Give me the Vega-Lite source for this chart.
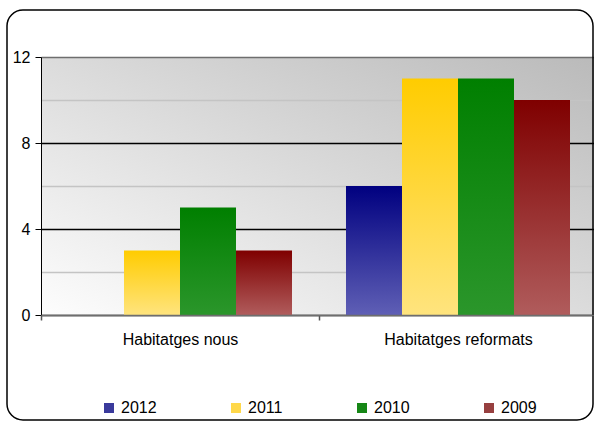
{
  "$schema": "https://vega.github.io/schema/vega-lite/v6.json",
  "width": 556,
  "height": 258,
  "autosize": {"type": "none"},
  "padding": {"left": 41, "top": 57, "right": 0, "bottom": 108},
  "background": "white",
  "config": {
    "font": "Liberation Sans",
    "view": {"stroke": null}
  },
  "view": {
    "stroke": null,
    "fill": {"gradient": "linear", "x1": 0, "y1": 1, "x2": 1, "y2": 0,
      "stops": [{"offset": 0, "color": "#fdfdfd"}, {"offset": 1, "color": "#bababa"}]}
  },
  "data": {"values": [
    {"cat": "Habitatges nous", "year": "2012", "value": 0},
    {"cat": "Habitatges nous", "year": "2011", "value": 3},
    {"cat": "Habitatges nous", "year": "2010", "value": 5},
    {"cat": "Habitatges nous", "year": "2009", "value": 3},
    {"cat": "Habitatges reformats", "year": "2012", "value": 6},
    {"cat": "Habitatges reformats", "year": "2011", "value": 11},
    {"cat": "Habitatges reformats", "year": "2010", "value": 11},
    {"cat": "Habitatges reformats", "year": "2009", "value": 10}
  ]},
  "layer": [
    {
      "mark": {"type": "bar"},
      "encoding": {
        "x": {"field": "cat", "type": "nominal", "sort": null,
          "scale": {"paddingInner": 0, "paddingOuter": 0},
          "axis": {"title": null, "labelAngle": 0, "labelFontSize": 16, "labelColor": "#000", "labelPadding": 11,
            "tickBand": "extent", "tickSize": 5, "tickColor": "#555", "tickWidth": 1.5,
            "domainColor": "#6e6e6e", "domainWidth": 1.5, "zindex": 1, "grid": false}},
        "xOffset": {"field": "year", "type": "nominal", "sort": ["2012", "2011", "2010", "2009"],
          "scale": {"paddingInner": 0, "paddingOuter": 0.482}},
        "y": {"field": "value", "type": "quantitative",
          "scale": {"domain": [0, 12], "nice": false},
          "axis": {"title": null, "values": [0, 2, 4, 6, 8, 10, 12],
            "labelExpr": "datum.value % 4 === 0 ? datum.label : ''",
            "labelFontSize": 16, "labelColor": "#000", "labelPadding": 5,
            "tickSize": 6, "tickColor": {"condition": {"test": "datum.value % 4 === 0", "value": "#000000"}, "value": "transparent"},
            "domainColor": "#000000", "domainWidth": 1,
            "grid": true,
            "gridColor": {"condition": [{"test": "datum.value === 12", "value": "#6e6e6e"}, {"test": "datum.value % 4 === 0", "value": "#000000"}], "value": "#c4c4c4"},
            "gridWidth": {"condition": {"test": "datum.value === 12", "value": 1.5}, "value": 1.3},
            "gridOpacity": 1}},
        "fill": {
          "condition": [
            {"test": "datum.year === '2012'", "value": {"gradient": "linear", "x1": 0, "y1": 0, "x2": 0, "y2": 1, "stops": [{"offset": 0, "color": "#000080"}, {"offset": 1, "color": "#5f5fb5"}]}},
            {"test": "datum.year === '2011'", "value": {"gradient": "linear", "x1": 0, "y1": 0, "x2": 0, "y2": 1, "stops": [{"offset": 0, "color": "#ffcc00"}, {"offset": 1, "color": "#ffe47e"}]}},
            {"test": "datum.year === '2010'", "value": {"gradient": "linear", "x1": 0, "y1": 0, "x2": 0, "y2": 1, "stops": [{"offset": 0, "color": "#007f00"}, {"offset": 1, "color": "#2b962b"}]}}
          ],
          "value": {"gradient": "linear", "x1": 0, "y1": 0, "x2": 0, "y2": 1, "stops": [{"offset": 0, "color": "#7f0000"}, {"offset": 1, "color": "#b05c5c"}]}
        }
      }
    },
    {
      "mark": {"type": "point", "shape": "square", "filled": true},
      "encoding": {
        "opacity": {"value": 0},
        "color": {"field": "year", "type": "nominal",
          "scale": {"domain": ["2012", "2011", "2010", "2009"],
            "range": ["#3a3a9c", "#ffd84a", "#168716", "#974040"]},
          "legend": {"title": null, "orient": "none", "direction": "horizontal", "legendX": 60, "legendY": 343,
            "padding": 0, "symbolType": "square", "symbolSize": 100, "symbolStrokeWidth": 0, "symbolOpacity": 1,
            "labelFontSize": 16, "labelColor": "#000", "labelOffset": 4, "columnPadding": 71, "columns": 4}}
      }
    },
    {
      "data": {"values": [{}]},
      "mark": {"type": "rect", "fill": null, "stroke": "#000000", "strokeWidth": 1.5, "cornerRadius": 16, "clip": false},
      "encoding": {
        "x": {"value": -34},
        "x2": {"value": 552},
        "y": {"value": -47},
        "y2": {"value": 363}
      }
    }
  ]
}
